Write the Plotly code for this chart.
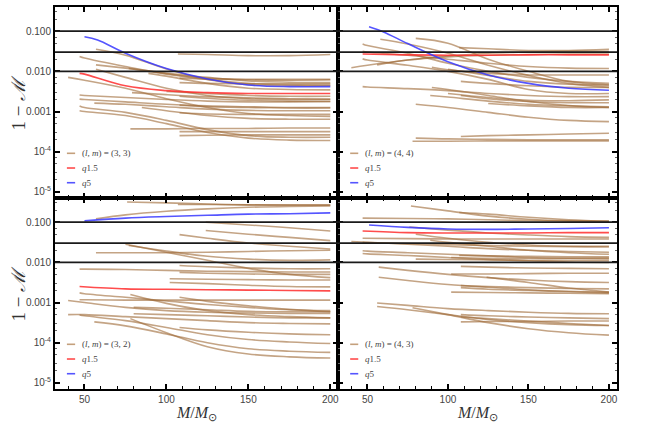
import plotly.graph_objects as go

# mismatch 1 - M against total mass, four (l, m) modes
# values are log10(1 - M)
MODES = ["(3, 3)", "(4, 4)", "(3, 2)", "(4, 3)"]
THRESHOLDS = [0.1, 0.03, 0.01]
YTICKS = [1e-5, 1e-4, 1e-3, 1e-2, 1e-1]
YTICKTEXT = ["10<sup>-5</sup>", "10<sup>-4</sup>", "0.001", "0.010", "0.100"]
XTICKS = [50, 100, 150, 200]
MINOR_X = [40, 60, 70, 80, 90, 110, 120, 130, 140, 160, 170, 180, 190]
MINOR_Y = [2e-5, 3e-5, 5e-5, 7e-5, 2e-4, 3e-4, 5e-4, 7e-4, 2e-3, 3e-3, 5e-3, 7e-3,
           2e-2, 3e-2, 5e-2, 7e-2, 2e-1, 3e-1]

# top left (3,3)
tl_q15 = ([47, 50, 75, 100, 125, 150, 175, 200], [-2.05, -2.07, -2.36, -2.48, -2.53, -2.55, -2.55, -2.55])
tl_q5 = ([50, 58, 75, 100, 125, 150, 175, 200], [-1.14, -1.22, -1.55, -1.93, -2.19, -2.34, -2.38, -2.38])
tl_other = [
    ([107, 125, 150, 175, 200], [-1.57, -1.58, -1.61, -1.61, -1.58]),
    ([57, 75, 100, 125, 150, 175, 200], [-1.45, -1.6, -1.94, -2.2, -2.33, -2.36, -2.36]),
    ([47, 50, 75, 100, 125, 150, 175, 200], [-1.63, -1.67, -1.88, -2.06, -2.17, -2.21, -2.22, -2.21]),
    ([57, 75, 100, 125, 150, 175, 200], [-1.84, -1.92, -2.04, -2.15, -2.24, -2.27, -2.28]),
    ([77, 100, 125, 150, 175, 200], [-1.93, -2.07, -2.2, -2.3, -2.33, -2.34]),
    ([89, 100, 125, 150, 175, 200], [-2.05, -2.12, -2.3, -2.42, -2.45, -2.46]),
    ([40, 50, 75, 100, 125, 150, 175, 200], [-2.15, -2.22, -2.42, -2.68, -2.9, -3.05, -3.1, -3.12]),
    ([47, 50, 75, 100, 125, 150, 175, 200], [-2.59, -2.6, -2.65, -2.7, -2.74, -2.76, -2.76, -2.75]),
    ([47, 50, 75, 100, 125, 150, 175, 200], [-2.69, -2.7, -2.76, -2.82, -2.86, -2.88, -2.9, -2.9]),
    ([56, 75, 100, 125, 150, 175, 200], [-2.79, -2.82, -2.88, -2.94, -2.97, -2.98, -2.98]),
    ([47, 50, 75, 100, 125, 150, 175, 200], [-2.86, -2.9, -3.02, -3.22, -3.45, -3.6, -3.64, -3.64]),
    ([47, 50, 75, 100, 125, 150, 175, 200], [-2.98, -3.0, -3.1, -3.3, -3.52, -3.66, -3.71, -3.72]),
    ([78, 100, 125, 150, 175, 200], [-3.43, -3.43, -3.42, -3.42, -3.41, -3.41]),
    ([108, 125, 150, 175, 200], [-3.5, -3.5, -3.5, -3.5, -3.5]),
    ([108, 125, 150, 175, 200], [-3.6, -3.59, -3.58, -3.58, -3.58]),
    ([79, 100, 125, 150, 175, 200], [-2.53, -2.58, -2.63, -2.66, -2.68, -2.69]),
    ([108, 125, 150, 175, 200], [-2.17, -2.19, -2.2, -2.2, -2.2]),
    ([108, 125, 150, 175, 200], [-2.28, -2.3, -2.31, -2.31, -2.31]),
    ([108, 125, 150, 175, 200], [-2.62, -2.67, -2.72, -2.74, -2.75]),
    ([108, 125, 150, 175, 200], [-2.84, -2.88, -2.9, -2.91, -2.91]),
    ([108, 125, 150, 175, 200], [-3.03, -3.06, -3.07, -3.07, -3.07]),
    ([57, 75, 100, 125, 150, 175, 200], [-1.95, -2.15, -2.42, -2.6, -2.68, -2.7, -2.7]),
    ([100, 125, 150, 175, 200], [-2.5, -2.55, -2.6, -2.62, -2.62]),
    ([85, 100, 125, 150, 175, 200], [-2.9, -2.98, -3.1, -3.17, -3.19, -3.19]),
]

# top right (4,4)
tr_q15 = ([47, 75, 100, 125, 150, 175, 200], [-1.57, -1.59, -1.6, -1.6, -1.59, -1.59, -1.59])
tr_q5 = ([51, 60, 75, 100, 125, 150, 175, 200], [-0.89, -1.02, -1.31, -1.76, -2.09, -2.3, -2.42, -2.47])
tr_other = [
    ([107, 125, 150, 175, 200], [-1.41, -1.44, -1.48, -1.48, -1.45]),
    ([40, 50, 75, 100, 125, 150, 175, 200], [-1.91, -1.85, -1.72, -1.62, -1.55, -1.52, -1.5, -1.5]),
    ([56, 75, 100, 125, 150, 175, 200], [-1.84, -1.72, -1.64, -1.6, -1.58, -1.57, -1.57]),
    ([47, 50, 75, 100, 125, 150, 175, 200], [-1.32, -1.36, -1.55, -1.8, -2.0, -2.15, -2.25, -2.3]),
    ([80, 100, 125, 150, 175, 200], [-1.18, -1.3, -1.7, -2.0, -2.25, -2.34]),
    ([58, 75, 100, 125, 150, 175, 200], [-1.2, -1.32, -1.55, -1.85, -2.1, -2.3, -2.4]),
    ([47, 50, 75, 100, 125, 150, 175, 200], [-1.69, -1.72, -1.85, -2.0, -2.2, -2.45, -2.55, -2.55]),
    ([47, 50, 75, 100, 125, 150, 175, 200], [-1.5, -1.52, -1.6, -1.7, -1.8, -1.88, -1.92, -1.93]),
    ([90, 100, 125, 150, 175, 200], [-1.9, -1.96, -2.05, -2.09, -2.09, -2.09]),
    ([47, 50, 75, 100, 125, 150, 175, 200], [-2.38, -2.39, -2.43, -2.48, -2.55, -2.6, -2.63, -2.63]),
    ([80, 100, 125, 150, 175, 200], [-2.82, -2.9, -3.02, -3.14, -3.22, -3.25]),
    ([80, 100, 125, 150, 175, 200], [-3.66, -3.68, -3.69, -3.7, -3.7, -3.7]),
    ([78, 100, 125, 150, 175, 200], [-3.74, -3.74, -3.73, -3.73, -3.73, -3.73]),
    ([108, 125, 150, 175, 200], [-3.62, -3.6, -3.58, -3.56, -3.54]),
    ([108, 125, 150, 175, 200], [-2.6, -2.68, -2.75, -2.78, -2.78]),
    ([100, 125, 150, 175, 200], [-2.55, -2.65, -2.72, -2.73, -2.71]),
    ([125, 150, 175, 200], [-2.8, -2.86, -2.9, -2.9]),
    ([90, 100, 125, 150, 175, 200], [-2.4, -2.45, -2.6, -2.75, -2.85, -2.9]),
    ([108, 125, 150, 175, 200], [-2.25, -2.3, -2.36, -2.4, -2.4]),
    ([89, 100, 125, 150, 175, 200], [-2.6, -2.64, -2.74, -2.82, -2.86, -2.88]),
    ([100, 125, 150, 175, 200], [-1.95, -2.1, -2.25, -2.32, -2.34]),
]

# bottom left (3,2)
bl_q15 = ([47, 75, 100, 125, 150, 175, 200], [-2.6, -2.66, -2.67, -2.68, -2.69, -2.7, -2.71])
bl_q5 = ([50, 75, 100, 125, 150, 175, 200], [-0.97, -0.9, -0.86, -0.83, -0.8, -0.79, -0.77])
bl_other = [
    ([76, 100, 125, 150, 175, 200], [-0.5, -0.52, -0.55, -0.57, -0.58, -0.58]),
    ([107, 125, 150, 175, 200], [-0.56, -0.56, -0.57, -0.57, -0.57]),
    ([57, 75, 100, 125, 150, 175, 200], [-0.92, -0.82, -0.73, -0.67, -0.63, -0.61, -0.6]),
    ([124, 150, 175, 200], [-1.0, -1.07, -1.14, -1.22]),
    ([124, 150, 175, 200], [-1.21, -1.3, -1.38, -1.46]),
    ([108, 125, 150, 175, 200], [-1.31, -1.4, -1.52, -1.6, -1.67]),
    ([75, 100, 125, 150, 175, 200], [-1.55, -1.75, -1.95, -2.15, -2.3, -2.38]),
    ([77, 100, 125, 150, 175, 200], [-1.58, -1.72, -1.85, -1.92, -1.95, -1.94]),
    ([57, 75, 100, 125, 150, 175, 200], [-1.76, -1.76, -1.76, -1.75, -1.73, -1.71, -1.7]),
    ([47, 50, 75, 100, 125, 150, 175, 200], [-2.17, -2.17, -2.18, -2.2, -2.22, -2.23, -2.24, -2.24]),
    ([108, 125, 150, 175, 200], [-2.08, -2.11, -2.14, -2.16, -2.16]),
    ([108, 125, 150, 175, 200], [-2.25, -2.27, -2.29, -2.3, -2.3]),
    ([102, 125, 150, 175, 200], [-2.41, -2.42, -2.43, -2.44, -2.44]),
    ([102, 125, 150, 175, 200], [-2.5, -2.53, -2.57, -2.6, -2.61]),
    ([47, 50, 75, 100, 125, 150, 175, 200], [-2.76, -2.78, -2.87, -2.96, -3.05, -3.12, -3.18, -3.2]),
    ([47, 50, 75, 100, 125, 150, 175, 200], [-2.93, -2.93, -2.94, -2.94, -2.94, -2.94, -2.94, -2.94]),
    ([40, 50, 75, 100, 125, 150, 175, 200], [-2.95, -3.0, -3.12, -3.2, -3.24, -3.26, -3.27, -3.27]),
    ([78, 100, 125, 150, 175, 200], [-2.8, -3.02, -3.2, -3.3, -3.35, -3.38]),
    ([80, 100, 125, 150, 175, 200], [-3.12, -3.14, -3.18, -3.22, -3.23, -3.23]),
    ([108, 125, 150, 175, 200], [-2.87, -2.97, -3.08, -3.17, -3.23]),
    ([80, 100, 125, 150, 175, 200], [-3.28, -3.3, -3.33, -3.36, -3.38, -3.38]),
    ([40, 50, 75, 100, 125, 150, 175, 200], [-3.3, -3.3, -3.35, -3.4, -3.45, -3.5, -3.52, -3.53]),
    ([47, 50, 75, 100, 125, 150, 175, 200], [-3.31, -3.33, -3.45, -3.62, -3.8, -3.92, -3.98, -4.02]),
    ([56, 75, 100, 125, 150, 175, 200], [-3.48, -3.58, -3.78, -4.0, -4.15, -4.21, -4.24]),
    ([78, 100, 125, 150, 175, 200], [-3.4, -3.75, -4.1, -4.28, -4.35, -4.38]),
    ([108, 125, 150, 175, 200], [-3.62, -3.68, -3.74, -3.78, -3.8]),
]

# bottom right (4,3)
br_q15 = ([47, 75, 100, 125, 150, 175, 200], [-1.22, -1.26, -1.27, -1.27, -1.27, -1.26, -1.26])
br_q5 = ([51, 75, 100, 125, 150, 175, 200], [-1.07, -1.13, -1.17, -1.18, -1.17, -1.16, -1.14])
br_other = [
    ([77, 100, 125, 150, 175, 200], [-0.6, -0.72, -0.85, -0.93, -0.97, -0.98]),
    ([107, 125, 150, 175, 200], [-0.76, -0.8, -0.88, -0.94, -0.98]),
    ([47, 75, 100, 125, 150, 175, 200], [-0.9, -0.91, -0.92, -0.94, -0.96, -0.97, -0.98]),
    ([76, 100, 125, 150, 175, 200], [-1.12, -1.2, -1.27, -1.32, -1.36, -1.38]),
    ([80, 100, 125, 150, 175, 200], [-1.3, -1.4, -1.5, -1.57, -1.6, -1.6]),
    ([47, 75, 100, 125, 150, 175, 200], [-1.4, -1.41, -1.42, -1.42, -1.42, -1.42, -1.42]),
    ([40, 50, 75, 100, 125, 150, 175, 200], [-1.48, -1.5, -1.55, -1.6, -1.66, -1.7, -1.73, -1.75]),
    ([47, 50, 75, 100, 125, 150, 175, 200], [-1.5, -1.51, -1.53, -1.56, -1.58, -1.6, -1.61, -1.62]),
    ([47, 50, 75, 100, 125, 150, 175, 200], [-1.71, -1.72, -1.76, -1.8, -1.84, -1.88, -1.9, -1.91]),
    ([47, 50, 75, 100, 125, 150, 175, 200], [-1.78, -1.79, -1.83, -1.88, -1.93, -1.96, -1.99, -2.0]),
    ([80, 100, 125, 150, 175, 200], [-1.92, -1.93, -1.94, -1.95, -1.95, -1.95]),
    ([89, 100, 125, 150, 175, 200], [-1.45, -1.5, -1.6, -1.7, -1.76, -1.8]),
    ([107, 125, 150, 175, 200], [-1.83, -1.84, -1.85, -1.86, -1.86]),
    ([102, 125, 150, 175, 200], [-1.88, -1.9, -1.9, -1.9, -1.89]),
    ([57, 75, 100, 125, 150, 175, 200], [-2.12, -2.2, -2.3, -2.38, -2.44, -2.48, -2.5]),
    ([57, 75, 100, 125, 150, 175, 200], [-2.37, -2.45, -2.55, -2.62, -2.68, -2.72, -2.74]),
    ([108, 125, 150, 175, 200], [-2.1, -2.12, -2.14, -2.15, -2.16]),
    ([102, 125, 150, 175, 200], [-2.29, -2.29, -2.28, -2.27, -2.27]),
    ([124, 150, 175, 200], [-2.37, -2.5, -2.64, -2.74]),
    ([108, 125, 150, 175, 200], [-2.58, -2.6, -2.63, -2.65, -2.66]),
    ([102, 125, 150, 175, 200], [-2.74, -2.75, -2.76, -2.77, -2.78]),
    ([108, 125, 150, 175, 200], [-2.63, -2.67, -2.7, -2.73, -2.76]),
    ([56, 75, 100, 125, 150, 175, 200], [-3.01, -3.07, -3.15, -3.2, -3.24, -3.27, -3.28]),
    ([56, 75, 100, 125, 150, 175, 200], [-3.1, -3.18, -3.3, -3.42, -3.5, -3.55, -3.57]),
    ([78, 100, 125, 150, 175, 200], [-3.13, -3.3, -3.5, -3.65, -3.75, -3.81]),
    ([108, 125, 150, 175, 200], [-3.3, -3.33, -3.36, -3.38, -3.4]),
    ([108, 125, 150, 175, 200], [-3.48, -3.47, -3.47, -3.46, -3.46]),
    ([108, 125, 150, 175, 200], [-3.36, -3.4, -3.46, -3.52, -3.57]),
]

TAN = "rgba(160,108,58,0.62)"
LEGEND_TAN = "rgb(196,160,124)"
RED = "rgba(255,45,45,0.85)"
BLUE = "rgba(55,55,255,0.85)"

panels = [
    ("x", "y", tl_other, tl_q15, tl_q5),
    ("x2", "y2", tr_other, tr_q15, tr_q5),
    ("x3", "y3", bl_other, bl_q15, bl_q5),
    ("x4", "y4", br_other, br_q15, br_q5),
]

fig = go.Figure()


def add_curve(xa, ya, curve, color):
    xs, logs = curve
    fig.add_trace(go.Scatter(
        x=xs, y=[10 ** v for v in logs], mode="lines",
        line=dict(color=color, width=1.6, shape="spline", smoothing=1.0),
        xaxis=xa, yaxis=ya, showlegend=False, hoverinfo="skip"))


for xa, ya, others, q15, q5 in panels:
    for c in others:
        add_curve(xa, ya, c, TAN)
    add_curve(xa, ya, q15, RED)
    add_curve(xa, ya, q5, BLUE)

split_x = 0.5044
domains = {
    "": ([0, split_x], [0.5, 1]),
    "2": ([split_x, 1], [0.5, 1]),
    "3": ([0, split_x], [0, 0.5]),
    "4": ([split_x, 1], [0, 0.5]),
}

tickfont = dict(family="Liberation Sans", size=10, color="#444")
for k, (dx, dy) in domains.items():
    bottom = k in ("3", "4")
    left = k in ("", "3")
    fig.layout["xaxis" + k] = dict(
        domain=dx, anchor="y" + k, range=[32, 205], tickvals=XTICKS,
        showticklabels=bottom, ticks="inside", ticklen=5, tickwidth=1.5,
        tickcolor="black", showline=True, linewidth=2, linecolor="black",
        mirror="allticks", showgrid=False, zeroline=False, tickfont=tickfont,
        minor=dict(ticks="inside", ticklen=3, tickvals=MINOR_X, tickcolor="black",
                   tickwidth=1, showgrid=False))
    fig.layout["yaxis" + k] = dict(
        domain=dy, anchor="x" + k, type="log", range=[-5.15, -0.4],
        tickvals=YTICKS, ticktext=YTICKTEXT, showticklabels=left,
        ticks="inside", ticklen=5, tickwidth=1.5, tickcolor="black",
        showline=True, linewidth=2, linecolor="black", mirror="allticks",
        showgrid=False, zeroline=False, tickfont=tickfont,
        minor=dict(ticks="inside", ticklen=2, tickvals=MINOR_Y, tickcolor="#666",
                   tickwidth=1, showgrid=False))

    # reference mismatch thresholds
    for t in THRESHOLDS:
        fig.add_shape(type="line", xref=("x" + k) + " domain", yref="y" + k,
                      x0=0, x1=1, y0=t, y1=t, opacity=1, layer="above",
                      line=dict(color="#1a1a1a", width=1.6))

# legends drawn inside each panel
legend_font = dict(family="Liberation Serif", size=9, color="#444")
for k, mode in zip(["", "2", "3", "4"], MODES):
    rows = [("(<i>l</i>, <i>m</i>) = " + mode, LEGEND_TAN), ("<i>q</i>1.5", RED), ("<i>q</i>5", BLUE)]
    for i, (label, color) in enumerate(rows):
        yy = 0.234 - i * 0.077
        fig.add_shape(type="line", xref=("x" + k) + " domain", yref=("y" + k) + " domain",
                      x0=0.042, x1=0.071, y0=yy, y1=yy, opacity=1, layer="above",
                      line=dict(color=color, width=1.6))
        fig.add_annotation(xref=("x" + k) + " domain", yref=("y" + k) + " domain",
                           x=0.088, y=yy, text=label, showarrow=False,
                           xanchor="left", yanchor="middle", font=legend_font)

title_font = dict(family="Liberation Serif", size=16, color="#333")
for k in ["3", "4"]:
    fig.add_annotation(xref=("x" + k) + " domain", yref="paper", x=0.5, y=-0.064,
                       yanchor="middle", showarrow=False, font=title_font,
                       text="<i>M</i>/<i>M</i><sub>⊙</sub>")
for k in ["", "3"]:
    fig.add_annotation(xref="paper", yref=("y" + k) + " domain", x=-0.042, y=0.5,
                       xanchor="right", showarrow=False, textangle=-90,
                       font=dict(family="Liberation Serif", size=19, color="#333"),
                       text="1 − <i>ℳ</i>")

fig.update_layout(
    template="simple_white",
    width=667, height=445,
    margin=dict(l=55, r=50, t=5, b=56),
    paper_bgcolor="white", plot_bgcolor="white",
    showlegend=False,
)

# drop the browser's default body margin so the figure sits at the page corner
fig.write_html("out.html", config={"displayModeBar": False},
               post_script="document.body.style.margin = '0';")
